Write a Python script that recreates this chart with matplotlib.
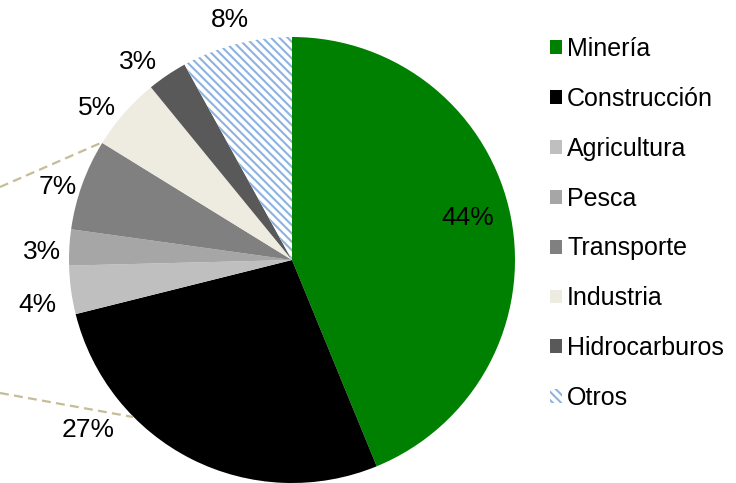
import matplotlib.pyplot as plt
from matplotlib.patches import Patch

plt.rcParams['font.family'] = ['Liberation Sans', 'DejaVu Sans']
plt.rcParams['hatch.linewidth'] = 1.5

# datos
sectores = ['Minería', 'Construcción', 'Agricultura', 'Pesca', 'Transporte',
            'Industria', 'Hidrocarburos', 'Otros']
participacion = [43.8, 27.3, 3.5, 2.6, 6.6, 5.3, 2.9, 8.0]

# estilo
colores = ['#008000', '#000000', '#bfbfbf', '#a6a6a6', '#808080',
           '#eeece1', '#595959', 'white']
azul_trama = '#8db3e2'
trama = '\\\\\\\\'

W, H = 736, 483
# posiciones de las etiquetas (pixeles desde arriba)
pos_etiquetas = [(468, 218), (88, 430), (37, 305), (42, 252),
                 (58, 187), (97, 108), (138, 62), (230, 20)]

fig = plt.figure(figsize=(W / 100, H / 100), dpi=100)
ax = fig.add_axes([0, 0, 1, 1])

cx, cy, r = 292, H - 260, 223
wedges, _ = ax.pie(participacion, colors=colores, startangle=90,
                   counterclock=False, center=(cx, cy), radius=r,
                   wedgeprops=dict(linewidth=0))
wedges[-1].set_hatch(trama)
wedges[-1].set_edgecolor(azul_trama)
wedges[-1].set_linewidth(0)

ax.set_xlim(0, W)
ax.set_ylim(0, H)
ax.set_aspect('equal')
ax.axis('off')

for v, (x, y) in zip(participacion, pos_etiquetas):
    ax.text(x, H - y, f'{v:.0f}%', ha='center', va='center', fontsize=19,
            color='black')

# lineas de conexion punteadas
ax.plot([0, 103], [H - 187, H - 142], color='#c4bd97', lw=1.6,
        dashes=(4, 2.4), solid_capstyle='butt')
ax.plot([0, 133], [H - 393, H - 417], color='#c4bd97', lw=1.6,
        dashes=(4, 2.4), solid_capstyle='butt')

handles = []
for c in colores[:-1]:
    handles.append(Patch(facecolor=c, linewidth=0))
handles.append(Patch(facecolor='white', edgecolor=azul_trama, linewidth=0,
                     hatch=trama))
ax.legend(handles, sectores, loc='upper left', bbox_to_anchor=(550, H - 37),
          bbox_transform=ax.transData, frameon=False, fontsize=18,
          handlelength=0.48, handleheight=0.48, handletextpad=0.2,
          labelspacing=1.035, borderpad=0, borderaxespad=0)

fig.savefig('out.png', dpi=100)
